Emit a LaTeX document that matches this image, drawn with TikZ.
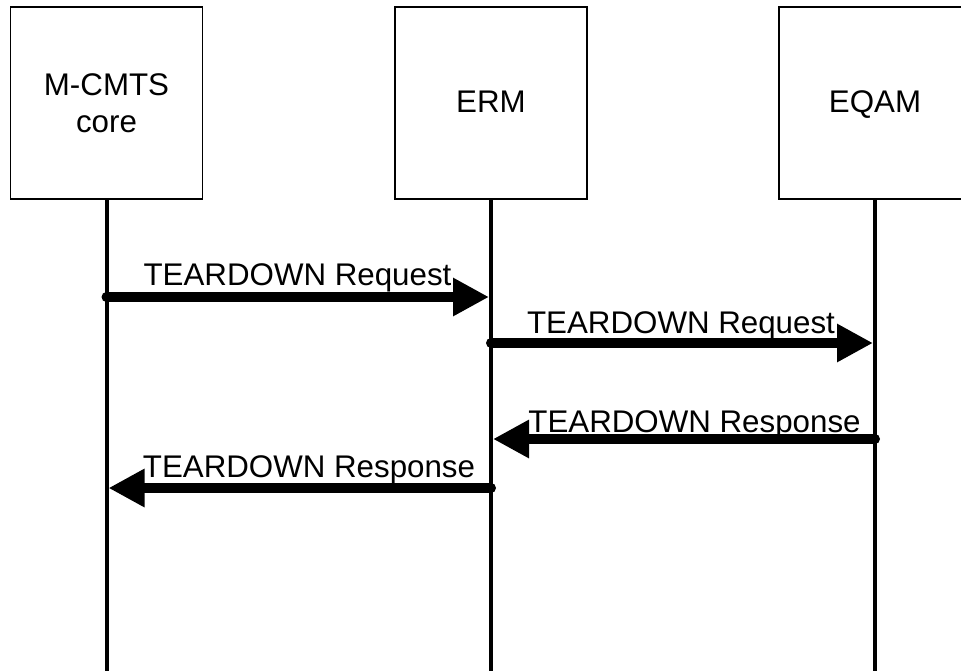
\documentclass[tikz,border=0pt]{standalone}
\usepackage{fontspec}
\setmainfont{Liberation Sans}
\usetikzlibrary{arrows.meta}
\begin{document}
\begin{tikzpicture}[x=1pt,y=-1pt,
  entity/.style={draw=black,line width=1.6pt,minimum width=192pt,minimum height=192pt,
    inner sep=0pt,align=center,font=\fontsize{31.3}{37}\selectfont},
  oneline/.style={text height=23pt,text depth=5pt},
  lifeline/.style={line width=4pt},
  msg/.style={line width=10pt,line cap=round,-{Triangle[length=36pt,width=36pt]}},
  msglabel/.style={anchor=base,inner sep=0pt,font=\fontsize{31.3}{37}\selectfont}]
\clip (0,0) rectangle (961,670);
\fill[white] (0,0) rectangle (961,670);
\node[entity] (core) at (106.5,103) {M-CMTS\\core};
\node[entity,oneline] (erm)  at (491,103) {ERM};
\node[entity,oneline] (eqam) at (875,103) {EQAM};
\coordinate (coreend) at (106.5,672);
\coordinate (ermend)  at (491,672);
\coordinate (eqamend) at (875,672);
\draw[lifeline] (core.south) -- (coreend);
\draw[lifeline] (erm.south) -- (ermend);
\draw[lifeline] (eqam.south) -- (eqamend);
% message end points
\coordinate (m1s) at (106.5,297);
\coordinate (m1e) at (489,297);
\coordinate (m2s) at (491,343);
\coordinate (m2e) at (873,343);
\coordinate (m3s) at (875,439);
\coordinate (m3e) at (493,439);
\coordinate (m4s) at (491,488);
\coordinate (m4e) at (108.5,488);
\draw[msg] (m1s) -- (m1e);
\draw[msg] (m2s) -- (m2e);
\draw[msg] (m3s) -- (m3e);
\draw[msg] (m4s) -- (m4e);
\node[msglabel] (l1) at (297.5,285) {TEARDOWN Request};
\node[msglabel] (l2) at (681,333) {TEARDOWN Request};
\node[msglabel] (l3) at (694.5,432) {TEARDOWN Response};
\node[msglabel] (l4) at (309,477) {TEARDOWN Response};
\end{tikzpicture}
\end{document}
